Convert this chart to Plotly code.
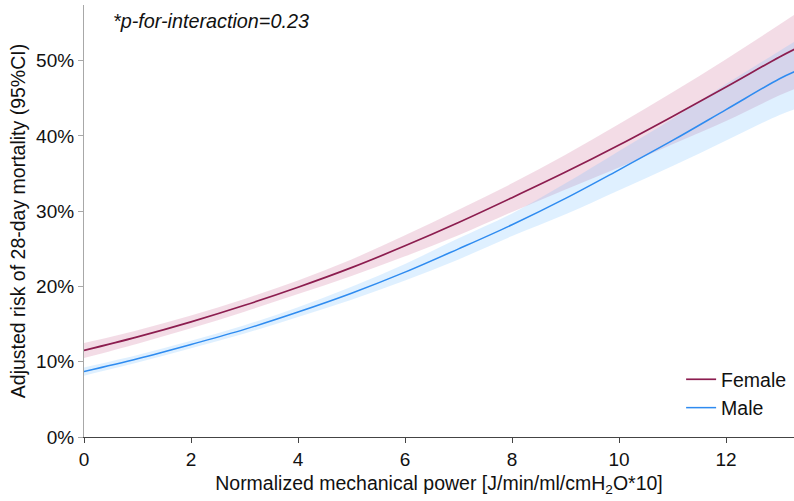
import plotly.graph_objects as go

# Normalized mechanical power grid
x_vals = [0, 1, 2, 3, 4, 5, 6, 7, 8, 9, 10, 11, 12, 13, 13.3]

# Female: adjusted risk (%) with 95% CI
female = [11.5, 13.3, 15.3, 17.5, 19.9, 22.5, 25.4, 28.5, 31.8, 35.2, 38.8, 42.6, 46.5, 50.5, 51.6]
female_lo = [10.5, 12.4, 14.45, 16.65, 19.0, 21.4, 24.0, 26.8, 29.9, 32.9, 35.8, 38.9, 42.0, 45.4, 46.3]
female_hi = [12.5, 14.2, 16.15, 18.35, 20.8, 23.6, 26.8, 30.2, 33.7, 37.5, 41.6, 45.8, 50.2, 54.8, 56.2]

# Male: adjusted risk (%) with 95% CI
male = [8.7, 10.4, 12.3, 14.3, 16.6, 19.1, 21.9, 25.0, 28.2, 31.7, 35.5, 39.4, 43.5, 47.6, 48.6]
male_lo = [8.15, 9.9, 11.8, 13.75, 15.95, 18.25, 20.8, 23.6, 26.7, 29.6, 32.8, 36.0, 39.4, 42.8, 43.6]
male_hi = [9.25, 10.9, 12.8, 14.85, 17.25, 19.95, 23.0, 26.4, 29.7, 33.7, 38.0, 42.3, 46.9, 51.3, 52.6]

y_ticks = [0, 10, 20, 30, 40, 50]
y_tick_labels = ["0%", "10%", "20%", "30%", "40%", "50%"]
x_ticks = [0, 2, 4, 6, 8, 10, 12]

female_line = "#8C1D4F"
male_line = "#2E8BF0"
female_fill = "rgba(205,110,150,0.24)"
male_fill = "rgba(110,185,255,0.22)"

fig = go.Figure()

# Bands
fig.add_trace(go.Scatter(x=x_vals, y=female_lo, mode="lines", line=dict(width=0, shape="spline"),
                         showlegend=False, hoverinfo="skip"))
fig.add_trace(go.Scatter(x=x_vals, y=female_hi, mode="lines", line=dict(width=0, shape="spline"),
                         fill="tonexty", fillcolor=female_fill, showlegend=False, hoverinfo="skip"))
fig.add_trace(go.Scatter(x=x_vals, y=male_lo, mode="lines", line=dict(width=0, shape="spline"),
                         showlegend=False, hoverinfo="skip"))
fig.add_trace(go.Scatter(x=x_vals, y=male_hi, mode="lines", line=dict(width=0, shape="spline"),
                         fill="tonexty", fillcolor=male_fill, showlegend=False, hoverinfo="skip"))

# Lines
fig.add_trace(go.Scatter(x=x_vals, y=female, mode="lines", name="Female",
                         line=dict(color=female_line, width=1.7, shape="spline")))
fig.add_trace(go.Scatter(x=x_vals, y=male, mode="lines", name="Male",
                         line=dict(color=male_line, width=1.5, shape="spline")))

fig.add_annotation(text="<i>*p-for-interaction=0.23</i>", xref="paper", yref="paper",
                   x=0.038, y=0.963, xanchor="left", yanchor="middle", showarrow=False,
                   font=dict(size=19.8, color="#111111"))

font_family = "Liberation Sans, Arial, sans-serif"

fig.update_layout(
    width=794, height=501,
    margin=dict(l=84, r=0, t=5, b=64),
    paper_bgcolor="white", plot_bgcolor="white",
    font=dict(family=font_family, color="#111111", size=19),
    showlegend=True,
    legend=dict(x=0.841, xanchor="left", y=0.178, yanchor="top",
                font=dict(size=19.5), bgcolor="rgba(0,0,0,0)",
                traceorder="normal", itemwidth=30, tracegroupgap=0),
    xaxis=dict(range=[0, 13.27], tickvals=x_ticks, showgrid=False, zeroline=False,
               automargin=False,
               showline=True, linecolor="#444444", linewidth=1.2,
               ticks="outside", ticklen=5, tickcolor="#444444",
               tickfont=dict(size=19),
               title=dict(text="Normalized mechanical power [J/min/ml/cmH<sub>2</sub>O*10]",
                          font=dict(size=19.5), standoff=7)),
    yaxis=dict(range=[0, 57.4], tickvals=y_ticks, ticktext=y_tick_labels, showgrid=False,
               zeroline=False, showline=True, linecolor="#A8A8A8", linewidth=1.2,
               automargin=False,
               ticks="outside", ticklen=5, tickcolor="#A8A8A8",
               tickfont=dict(size=19),
               title=dict(text="Adjusted risk of 28-day mortality (95%CI)",
                          font=dict(size=19.5), standoff=5)),
)

fig.write_html("out.html", config={"displayModeBar": False},
               post_script="document.body.style.margin='0';")
